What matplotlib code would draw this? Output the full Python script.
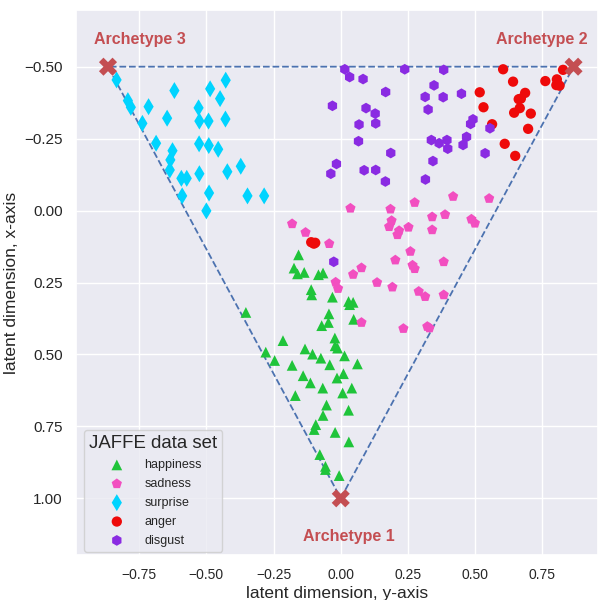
import matplotlib
matplotlib.use("Agg")
import matplotlib.pyplot as plt
import seaborn as sns

# horizontal coordinate = "latent dimension, y-axis"; vertical = "latent dimension, x-axis"
happiness_h = [-0.157, -0.174, -0.161, -0.136, -0.083, -0.066, -0.110, -0.108, -0.031, 0.029,
               0.046, -0.353, -0.044, -0.046, -0.071, 0.048, -0.022, -0.021, -0.215, -0.279,
               -0.246, -0.133, -0.105, -0.074, -0.041, 0.014, -0.181, -0.140, -0.113, -0.014,
               0.010, -0.067, 0.007, 0.041, -0.169, -0.053, 0.029, -0.066, -0.093, -0.099,
               -0.021, 0.030, -0.078, -0.057, -0.057, -0.006, 0.062, 0.033, -0.012]
happiness_v = [0.154, 0.200, 0.220, 0.215, 0.223, 0.217, 0.275, 0.293, 0.301, 0.316,
               0.319, 0.354, 0.359, 0.389, 0.400, 0.378, 0.443, 0.470, 0.452, 0.492,
               0.521, 0.481, 0.499, 0.513, 0.536, 0.505, 0.538, 0.574, 0.599, 0.582,
               0.567, 0.617, 0.634, 0.617, 0.643, 0.676, 0.694, 0.712, 0.744, 0.761,
               0.771, 0.804, 0.848, 0.889, 0.900, 0.921, 0.533, 0.327, 0.478]

sadness_h = [0.036, 0.185, 0.275, 0.418, 0.552, 0.189, 0.180, 0.217, 0.211, 0.252,
             0.340, 0.388, 0.340, 0.486, 0.499, -0.131, -0.043, 0.259, 0.203, 0.383,
             0.077, 0.046, 0.267, 0.275, -0.019, -0.010, 0.135, 0.192, 0.290, 0.314,
             0.383, -0.181, 0.077, 0.233, 0.322, 0.330]
sadness_v = [-0.008, -0.005, -0.028, -0.049, -0.042, 0.035, 0.056, 0.070, 0.084, 0.058,
             0.022, 0.014, 0.067, 0.030, 0.044, 0.076, 0.115, 0.142, 0.172, 0.178,
             0.199, 0.222, 0.190, 0.202, 0.249, 0.271, 0.250, 0.266, 0.281, 0.299,
             0.293, 0.046, 0.389, 0.410, 0.403, 0.408]

surprise_h = [-0.834, -0.619, -0.486, -0.428, -0.449, -0.792, -0.781, -0.715, -0.529, -0.646,
              -0.526, -0.492, -0.429, -0.738, -0.687, -0.626, -0.527, -0.491, -0.456, -0.634,
              -0.636, -0.593, -0.573, -0.526, -0.422, -0.372, -0.590, -0.490, -0.347, -0.285,
              -0.500]
surprise_v = [-0.454, -0.417, -0.423, -0.453, -0.389, -0.382, -0.359, -0.361, -0.357, -0.321,
              -0.311, -0.311, -0.318, -0.303, -0.234, -0.208, -0.232, -0.226, -0.213, -0.176,
              -0.141, -0.112, -0.112, -0.128, -0.135, -0.154, -0.051, -0.061, -0.051, -0.051,
              0.001]

anger_h = [0.604, 0.641, 0.517, 0.531, 0.563, 0.610, 0.649, 0.686, 0.670, 0.662,
           0.666, 0.645, 0.707, 0.697, 0.761, 0.804, 0.802, 0.814, 0.827, -0.110,
           -0.100, -0.095]
anger_v = [-0.491, -0.448, -0.411, -0.359, -0.300, -0.232, -0.190, -0.409, -0.389, -0.387,
           -0.356, -0.340, -0.337, -0.284, -0.450, -0.456, -0.436, -0.434, -0.489, 0.110,
           0.115, 0.112]

disgust_h = [0.015, 0.033, 0.083, 0.238, 0.383, 0.167, 0.347, 0.314, 0.381, 0.449,
             -0.031, 0.094, 0.128, 0.325, 0.068, 0.130, 0.492, 0.483, 0.555, 0.066,
             0.337, 0.366, 0.395, 0.398, 0.468, 0.455, 0.537, 0.186, -0.016, -0.037,
             0.087, 0.130, 0.343, 0.166, 0.315, -0.026]
disgust_v = [-0.491, -0.464, -0.457, -0.491, -0.489, -0.412, -0.435, -0.395, -0.394, -0.406,
             -0.364, -0.356, -0.337, -0.351, -0.299, -0.303, -0.317, -0.301, -0.286, -0.241,
             -0.245, -0.234, -0.245, -0.215, -0.256, -0.228, -0.199, -0.200, -0.162, -0.128,
             -0.140, -0.141, -0.172, -0.101, -0.108, 0.178]

archetype_h = [0.0, 0.866, -0.866]
archetype_v = [1.0, -0.5, -0.5]
archetype_labels = ["Archetype 1", "Archetype 2", "Archetype 3"]

x_ticks = [-0.75, -0.50, -0.25, 0.00, 0.25, 0.50, 0.75]
y_ticks = [-0.50, -0.25, 0.00, 0.25, 0.50, 0.75, 1.00]

sns.set_theme(style="darkgrid")
plt.rcParams["font.family"] = ["Liberation Sans", "DejaVu Sans"]
plt.rcParams["axes.unicode_minus"] = True

fig = plt.figure(figsize=(5.98, 6.0), dpi=100)
ax = fig.add_axes([76 / 598, 45 / 600, 522 / 598, 545 / 600])

# triangle (simplex) edges
tri_h = archetype_h + [archetype_h[0]]
tri_v = archetype_v + [archetype_v[0]]
ax.plot(tri_h, tri_v, linestyle="--", color="#4c72b0", lw=1.3, zorder=2)

groups = [
    ("happiness", happiness_h, happiness_v, "^", "#1fc43a", 60),
    ("sadness", sadness_h, sadness_v, "p", "#f24fc0", 60),
    ("surprise", surprise_h, surprise_v, "d", "#00d4ff", 75),
    ("anger", anger_h, anger_v, "o", "#ee0a0a", 55),
    ("disgust", disgust_h, disgust_v, "h", "#8a2be2", 60),
]
for name, hx, vy, m, c, s in groups:
    ax.scatter(hx, vy, marker=m, color=c, s=s, edgecolors="none", label=name, zorder=3)

ax.scatter(archetype_h, archetype_v, marker="X", s=170, color="#c44e52",
           edgecolors="none", zorder=4)

label_pos = [(0.03, 1.132), (0.747, -0.594), (-0.747, -0.594)]
for (lx, ly), txt in zip(label_pos, archetype_labels):
    ax.text(lx, ly, txt, color="#c44e52", fontsize=11.5, fontweight="bold",
            ha="center", va="center", zorder=5)

ax.set_xlim(-0.985, 0.957)
ax.set_ylim(1.197, -0.697)
ax.set_xticks(x_ticks)
ax.set_yticks(y_ticks)
ax.set_xticklabels([f"{t:.2f}".replace("-", "\u2212") for t in x_ticks])
ax.set_yticklabels([f"{t:.2f}".replace("-", "\u2212") for t in y_ticks])
ax.tick_params(axis="x", labelsize=10, colors="#262626")
ax.tick_params(axis="y", labelsize=11, colors="#262626")
ax.set_xlabel("latent dimension, y-axis", fontsize=12.5, labelpad=3)
ax.set_ylabel("latent dimension, x-axis", fontsize=12.5, labelpad=4)

leg = ax.legend(title="JAFFE data set", loc="lower left",
                bbox_to_anchor=(8 / 522, 3.3 / 545), borderaxespad=0,
                fontsize=9, title_fontsize=13.4, markerscale=1.0,
                handletextpad=1.2, labelspacing=0.55, frameon=True)

fig.savefig("out.png", dpi=100)
